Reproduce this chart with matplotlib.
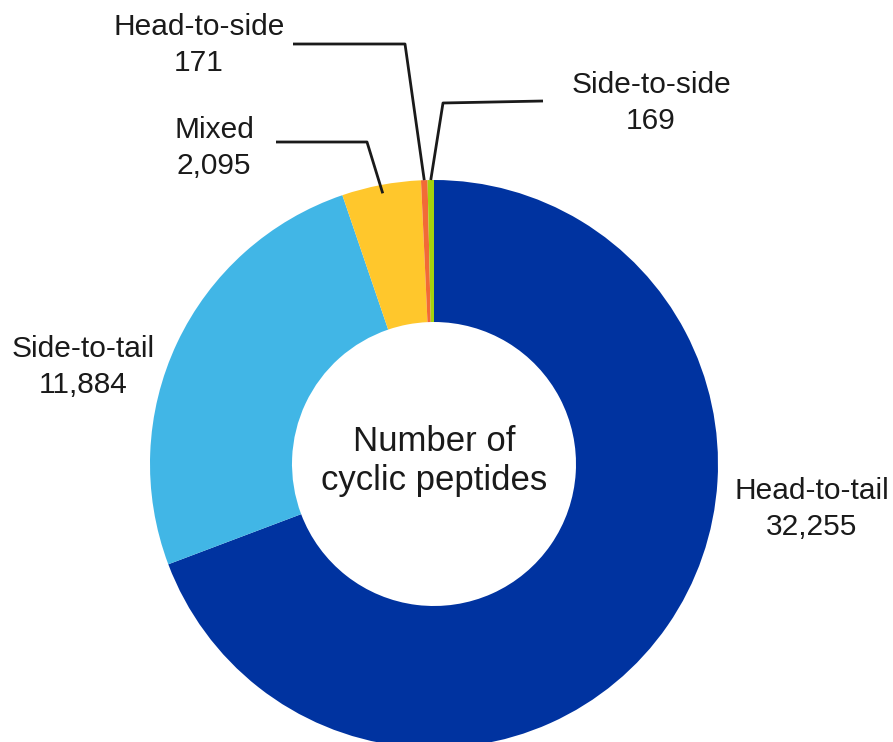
import numpy as np
import matplotlib.pyplot as plt

plt.rcParams['font.family'] = ['Liberation Sans', 'DejaVu Sans']

# Cyclization types and counts
tipos = ["Head-to-tail", "Side-to-tail", "Mixed", "Head-to-side", "Side-to-side"]
conteos = [32255, 11884, 2095, 171, 169]
colores = ["#0033A0", "#41B6E6", "#FFC72C", "#F26A36", "#A4D20E"]

W, H = 893, 742
cx, cy = 434, H - 464      # centro del anillo
R = 284                     # radio exterior
ancho = 0.5                 # fraccion del radio ocupada por el anillo

fig = plt.figure(figsize=(W / 100, H / 100), dpi=100)
ax = fig.add_axes([0, 0, 1, 1])

cunas, _ = ax.pie(conteos, colors=colores, startangle=90, counterclock=False,
                  center=(cx, cy), radius=R,
                  wedgeprops=dict(width=R * ancho, linewidth=0), frame=True)
ax.set_xlim(0, W)
ax.set_ylim(0, H)
ax.set_aspect("equal")
ax.axis("off")

def punto_medio(cuna, r):
    ang = np.deg2rad((cuna.theta1 + cuna.theta2) / 2)
    return cx + r * np.cos(ang), cy + r * np.sin(ang)

def etiqueta(i, x, y):
    ax.text(x, H - y, f"{tipos[i]}\n{conteos[i]:,}", ha="center", va="center",
            fontsize=21.5, linespacing=1.33, color="#1a1a1a")

# Etiquetas directas de las rebanadas grandes
etiqueta(0, 812, 509)
etiqueta(1, 83, 367)

# Etiquetas con lineas guia para las rebanadas pequenas
guias = {
    2: ((214, 148), [(276, 142), (367, 142)], 0.97),
    3: ((199, 45), [(293, 44), (405, 44)], 1.0),
    4: ((651, 103), [(543, 101), (443, 103)], 1.0),
}
for i, (pos, codo, fr) in guias.items():
    etiqueta(i, *pos)
    xs = [p[0] for p in codo]
    ys = [H - p[1] for p in codo]
    xf, yf = punto_medio(cunas[i], R * fr)
    ax.plot(xs + [xf], ys + [yf], color="#1a1a1a", lw=2, solid_capstyle="butt")

ax.text(cx, cy + 3, "Number of\ncyclic peptides", ha="center", va="center",
        fontsize=25, linespacing=1.25, color="#1a1a1a")

fig.savefig("out.png", dpi=100)
